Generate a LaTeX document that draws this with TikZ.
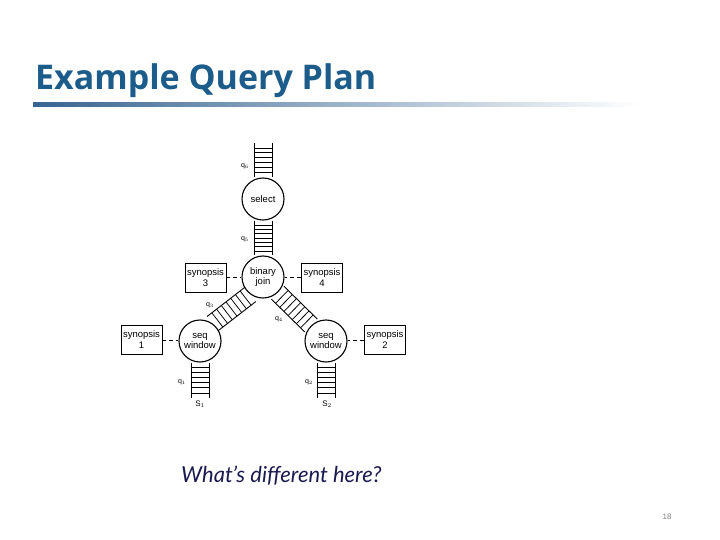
\documentclass[tikz,border=0pt]{standalone}
\usepackage{fontspec}
\setmainfont{Liberation Sans}
\newfontfamily\titlefont{Open Sans}
\newfontfamily\questfont{Lato}
\usetikzlibrary{calc}
\definecolor{titleblue}{RGB}{27,92,138}
\definecolor{barblue}{RGB}{55,100,145}
\definecolor{navytext}{RGB}{26,26,80}
\tikzset{
  opnode/.style={draw,circle,minimum size=42pt,inner sep=0pt,line width=1.1pt,align=center,font=\fontsize{9.5}{10}\selectfont},
  synbox/.style={draw,minimum width=41pt,minimum height=29pt,inner sep=0pt,line width=0.9pt,align=center,font=\fontsize{9.5}{11}\selectfont},
  rail/.style={line width=0.9pt},
  rung/.style={line width=0.75pt},
  link/.style={dashed,line width=0.8pt,dash pattern=on 4pt off 3pt},
  qlabel/.style={font=\fontsize{7}{8}\selectfont,inner sep=0pt}
}
\newcommand\queue[3]{%
  \draw[rail] ($(#1)!9pt!90:(#2)$) -- ($(#2)!9pt!-90:(#1)$);
  \draw[rail] ($(#1)!9pt!-90:(#2)$) -- ($(#2)!9pt!90:(#1)$);
  \foreach \k in {1,...,#3}{%
    \path ($(#1)!{\k/(#3+1)}!(#2)$) coordinate (qm);
    \draw[rung] ($(qm)!9pt!90:(#2)$) -- ($(qm)!9pt!-90:(#2)$);
  }%
}
\begin{document}
\begin{tikzpicture}[x=1pt,y=-1pt]
\useasboundingbox (0,0) rectangle (720,540);
\fill[white] (0,0) rectangle (720,540);
% title
\node[anchor=base west,inner sep=0pt,text=titleblue,font=\titlefont\bfseries\fontsize{34}{38}\selectfont] (title) at (35,90) {Example Query Plan};
\shade[left color=barblue,right color=white] (33,102.5) rectangle (640,106.5);
% operators
\node[opnode] (select) at (263,199) {select};
\node[opnode] (join) at (263,277) {binary\\join};
\node[opnode] (seqL) at (200,341) {seq\\window};
\node[opnode] (seqR) at (326,341) {seq\\window};
% synopses
\node[synbox] (syn3) at (205.5,277.5) {synopsis\\3};
\node[synbox] (syn4) at (322,277.5) {synopsis\\4};
\node[synbox] (syn1) at (141.5,340) {synopsis\\1};
\node[synbox] (syn2) at (385,340) {synopsis\\2};
\draw[link] (syn3.east) -- (join.west |- syn3.east);
\draw[link] (syn4.west) -- (join.east |- syn4.west);
\draw[link] (syn1.east) -- (seqL.west |- syn1.east);
\draw[link] (syn2.west) -- (seqR.east |- syn2.west);
% free ends of queues
\coordinate (topin) at (263,143);
\coordinate (s1in) at (200,398);
\coordinate (s2in) at (326,398);
% queues
\queue{topin}{select.north}{6}
\queue{select.south}{join.north}{7}
\queue{join.234}{seqL.54}{7}
\queue{join.313}{seqR.134}{7}
\queue{s1in}{seqL.south}{6}
\queue{s2in}{seqR.south}{6}
% queue labels
\node[qlabel] (q6) at (245,166) {q$_6$};
\node[qlabel] (q5) at (245,239) {q$_5$};
\node[qlabel] (q3) at (210,305) {q$_3$};
\node[qlabel] (q4) at (279,319) {q$_4$};
\node[qlabel] (q1) at (182,382) {q$_1$};
\node[qlabel] (q2) at (309,382) {q$_2$};
\node[qlabel,font=\fontsize{8}{9}\selectfont] (s1) at (200,404) {S$_1$};
\node[qlabel,font=\fontsize{8}{9}\selectfont] (s2) at (327,404) {S$_2$};
% question
\node[anchor=base west,inner sep=0pt,text=navytext,font=\questfont\itshape\fontsize{22}{26}\selectfont] (question) at (181,482) {What’s different here?};
% page number
\node[inner sep=0pt,text=gray,font=\fontsize{8}{9}\selectfont] (page) at (667,517) {18};
\end{tikzpicture}
\end{document}
